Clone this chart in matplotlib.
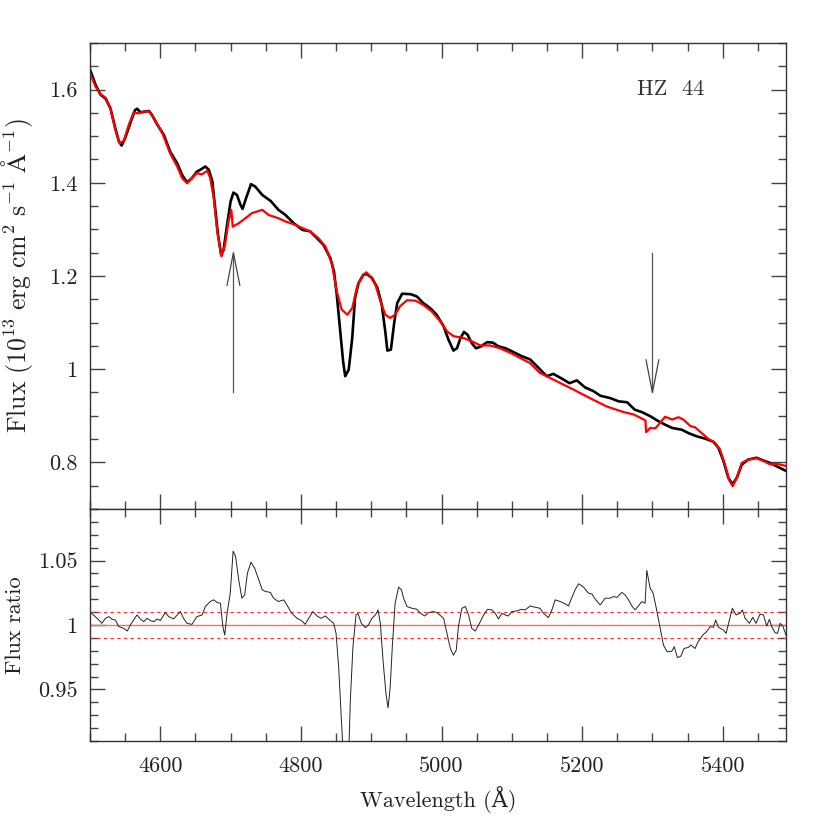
import numpy as np
import matplotlib
matplotlib.use("Agg")
import matplotlib.pyplot as plt
from matplotlib.ticker import MultipleLocator, FuncFormatter

plt.rcParams['font.family'] = ['cmr10', 'DejaVu Serif']
plt.rcParams['mathtext.fontset'] = 'cm'
plt.rcParams['axes.formatter.use_mathtext'] = True

# ---- data: observed spectrum (black) ----
obs_wave = [4500, 4508, 4515, 4522, 4529, 4536, 4541, 4545, 4550, 4558, 4564, 4567, 4572, 4578,
            4584, 4588, 4596, 4605, 4614, 4624, 4631, 4638, 4645, 4652, 4657, 4664, 4669, 4674,
            4678, 4682, 4686.5, 4690, 4695, 4700, 4704, 4709, 4714, 4717, 4722, 4729, 4735, 4745,
            4757, 4768, 4778, 4790, 4802, 4813, 4823, 4832, 4842, 4847, 4851, 4856, 4860, 4863,
            4868, 4873, 4877, 4882, 4889, 4894, 4901, 4909, 4915, 4920, 4923, 4928, 4933, 4937,
            4944, 4956, 4965, 4974, 4984, 4993, 5003, 5010, 5017, 5022, 5027, 5032, 5037, 5043,
            5049, 5055, 5065, 5073, 5081, 5091, 5102, 5114, 5126, 5136, 5145, 5150, 5159, 5171,
            5182, 5192.5, 5204, 5216, 5226, 5240, 5252, 5264, 5275, 5285, 5297, 5309, 5318, 5328,
            5342, 5351, 5363, 5375, 5387, 5394, 5401, 5408, 5414, 5420, 5427, 5436, 5448, 5458,
            5467, 5479, 5491]
obs_flux = [1.643, 1.610, 1.589, 1.581, 1.560, 1.517, 1.489, 1.480, 1.496, 1.531, 1.556, 1.559, 1.551, 1.553,
            1.554, 1.546, 1.524, 1.503, 1.467, 1.442, 1.417, 1.401, 1.410, 1.424, 1.428, 1.435, 1.428, 1.403,
            1.346, 1.289, 1.246, 1.256, 1.310, 1.360, 1.379, 1.374, 1.353, 1.344, 1.367, 1.397, 1.392, 1.374,
            1.361, 1.342, 1.331, 1.313, 1.299, 1.296, 1.281, 1.267, 1.238, 1.210, 1.160, 1.081, 1.017, 0.985,
            0.999, 1.067, 1.153, 1.185, 1.203, 1.204, 1.196, 1.174, 1.138, 1.081, 1.040, 1.042, 1.103, 1.142,
            1.162, 1.161, 1.156, 1.142, 1.131, 1.117, 1.092, 1.063, 1.040, 1.045, 1.067, 1.080, 1.074, 1.056,
            1.045, 1.048, 1.058, 1.057, 1.049, 1.045, 1.037, 1.028, 1.021, 1.006, 0.992, 0.985, 0.990, 0.980,
            0.970, 0.976, 0.961, 0.953, 0.943, 0.938, 0.931, 0.929, 0.913, 0.908, 0.899, 0.888, 0.881, 0.874,
            0.870, 0.863, 0.856, 0.851, 0.844, 0.831, 0.803, 0.767, 0.753, 0.767, 0.795, 0.806, 0.810, 0.804,
            0.799, 0.790, 0.781]

# ---- data: model spectrum (red) ----
mod_wave = [4500, 4508, 4515, 4522, 4529, 4536, 4542, 4548, 4555, 4562, 4569, 4576, 4584, 4591,
            4603, 4614, 4624, 4631, 4638, 4645, 4652, 4659, 4667, 4671, 4676, 4681, 4687, 4692,
            4697, 4701, 4703, 4711.5, 4721, 4730.5, 4745, 4754, 4768, 4778, 4790, 4802, 4813, 4825,
            4835, 4844, 4851, 4858, 4866, 4873, 4880, 4887, 4893, 4899, 4906, 4913, 4920, 4927,
            4934, 4941, 4951, 4963, 4974, 4986, 4998, 5008, 5017, 5031, 5043, 5055, 5069, 5083,
            5098, 5112, 5126, 5140, 5164, 5188, 5211, 5235, 5259, 5273, 5282.5, 5290, 5291, 5297,
            5304, 5311, 5318, 5328, 5337, 5344, 5354, 5361, 5370, 5380, 5389, 5396, 5403, 5409,
            5414, 5420, 5427, 5436, 5448, 5458, 5467, 5477, 5491]
mod_flux = [1.635, 1.606, 1.590, 1.583, 1.560, 1.514, 1.485, 1.490, 1.524, 1.551, 1.549, 1.553, 1.553, 1.539,
            1.506, 1.463, 1.435, 1.410, 1.399, 1.410, 1.421, 1.418, 1.426, 1.410, 1.367, 1.296, 1.242, 1.267,
            1.317, 1.342, 1.306, 1.313, 1.324, 1.335, 1.342, 1.331, 1.324, 1.317, 1.311, 1.303, 1.296, 1.281,
            1.263, 1.226, 1.167, 1.128, 1.117, 1.131, 1.178, 1.199, 1.208, 1.199, 1.181, 1.146, 1.117, 1.110,
            1.117, 1.135, 1.148, 1.147, 1.138, 1.124, 1.103, 1.081, 1.071, 1.067, 1.060, 1.051, 1.051, 1.045,
            1.035, 1.024, 1.013, 0.992, 0.974, 0.956, 0.938, 0.920, 0.908, 0.903, 0.896, 0.890, 0.865, 0.874,
            0.873, 0.885, 0.898, 0.892, 0.897, 0.892, 0.878, 0.875, 0.863, 0.850, 0.842, 0.828, 0.796, 0.763,
            0.749, 0.767, 0.799, 0.806, 0.809, 0.803, 0.796, 0.797, 0.792]

# ---- data: flux ratio (bottom panel) ----
ratio_wave = [4501, 4505, 4512.5, 4517, 4522, 4527, 4531.5, 4536, 4541, 4548, 4553, 4557.5, 4562, 4567,
              4572, 4576.5, 4581, 4586, 4591, 4595.5, 4600, 4607, 4612, 4619, 4624, 4628.6, 4633, 4638,
              4645, 4652, 4659.5, 4664, 4671, 4676, 4681, 4685.5, 4689, 4691.6, 4695, 4699.5, 4703.6, 4707,
              4711.5, 4716, 4720, 4724, 4729, 4734, 4740, 4745, 4749.5, 4756.6, 4761, 4768, 4775.5, 4780,
              4787, 4794.5, 4801.6, 4806, 4812, 4817, 4823, 4828.6, 4834.8, 4842, 4846.6, 4850, 4853.7, 4857.5,
              4859.4, 4862, 4866, 4868, 4870.3, 4874, 4878.4, 4881, 4886, 4891.6, 4896, 4901, 4906, 4909.7,
              4913, 4916.8, 4921, 4924, 4927, 4930, 4934, 4939, 4943, 4946, 4951, 4958, 4965, 4970,
              4976, 4981.6, 4988.7, 4993.5, 5003, 5007.8, 5012.5, 5017, 5021, 5024, 5029, 5034, 5038.5, 5043,
              5048, 5054, 5060, 5065.5, 5071.7, 5076.4, 5081, 5086, 5090.6, 5095, 5100, 5107, 5114, 5119,
              5126, 5133, 5140, 5145, 5152, 5157, 5161.7, 5169, 5176, 5180.6, 5185, 5190, 5195, 5202,
              5209, 5214, 5218.6, 5225.7, 5232.8, 5240, 5244.6, 5249.4, 5256.5, 5261, 5266, 5270.7, 5275.4, 5280,
              5285, 5289.6, 5292, 5296.7, 5301, 5306, 5311, 5315.7, 5321, 5327.6, 5331, 5335.6, 5340.4, 5345,
              5351, 5354.6, 5360.7, 5365, 5371.7, 5377, 5382, 5386.7, 5390, 5393.8, 5401, 5404.8, 5409.5, 5413.7,
              5419, 5424.8, 5428, 5431.8, 5438, 5442.7, 5447.4, 5453, 5458, 5462.6, 5466.4, 5469.7, 5474.5, 5478,
              5481.6, 5485.4, 5490]
ratio_val = [1.0096, 1.0078, 1.0039, 1.0013, 1.0052, 1.0065, 1.0044, 1.0039, 0.9987, 0.9974, 0.9953, 1.0000, 1.0039, 1.0078,
             1.0044, 1.0026, 1.0052, 1.0034, 1.0026, 1.0047, 1.0034, 1.0096, 1.0065, 1.0047, 1.0078, 1.0104, 1.0052, 1.0013,
             1.0005, 1.0065, 1.0078, 1.0143, 1.0182, 1.0195, 1.0174, 1.0169, 0.9987, 0.9922, 1.0091, 1.0247, 1.0573, 1.0534,
             1.0352, 1.0208, 1.0234, 1.0404, 1.0487, 1.0443, 1.0352, 1.0273, 1.0260, 1.0253, 1.0208, 1.0182, 1.0195, 1.0156,
             1.0091, 1.0052, 1.0031, 1.0005, 1.0060, 1.0104, 1.0070, 1.0052, 1.0070, 1.0034, 1.0013, 0.9935, 0.9674, 0.9284,
             0.9076, 0.8850, 0.8800, 0.9000, 0.9414, 0.9831, 1.0078, 1.0091, 1.0013, 0.9979, 1.0000, 1.0052, 1.0078, 1.0117,
             1.0013, 0.9727, 0.9466, 0.9357, 0.9518, 0.9831, 1.0169, 1.0294, 1.0273, 1.0208, 1.0143, 1.0130, 1.0122, 1.0091,
             1.0070, 1.0096, 1.0104, 1.0096, 1.0052, 0.9935, 0.9818, 0.9766, 0.9805, 0.9987, 1.0130, 1.0143, 1.0078, 0.9974,
             0.9953, 1.0013, 1.0078, 1.0122, 1.0117, 1.0091, 1.0047, 1.0091, 1.0078, 1.0070, 1.0104, 1.0109, 1.0122, 1.0117,
             1.0148, 1.0138, 1.0130, 1.0091, 1.0057, 1.0117, 1.0195, 1.0182, 1.0164, 1.0148, 1.0208, 1.0273, 1.0320, 1.0294,
             1.0247, 1.0240, 1.0201, 1.0156, 1.0208, 1.0208, 1.0221, 1.0214, 1.0253, 1.0234, 1.0195, 1.0148, 1.0117, 1.0148,
             1.0182, 1.0169, 1.0424, 1.0286, 1.0247, 1.0117, 0.9974, 0.9844, 0.9792, 0.9797, 0.9831, 0.9747, 0.9758, 0.9818,
             0.9826, 0.9844, 0.9818, 0.9870, 0.9922, 0.9948, 0.9987, 0.9982, 1.0039, 0.9982, 0.9961, 0.9935, 1.0039, 1.0130,
             1.0078, 1.0091, 1.0117, 1.0052, 1.0013, 1.0060, 1.0013, 1.0083, 1.0078, 0.9992, 1.0044, 0.9987, 0.9940, 0.9935,
             1.0013, 0.9992, 0.9922]

ref_level = 1.0
band_levels = [1.01, 0.99]

arrow_x = [4704, 5300]
arrow_tail = [0.95, 1.25]
arrow_tip = [1.25, 0.95]

star_name = "HZ  44"
wave_ticks = [4600, 4800, 5000, 5200, 5400]
wave_ticklabels = ["4600", "4800", "5000", "5200", "5400"]

# ---- figure ----
W, H = 830, 830
fig = plt.figure(figsize=(W / 100, H / 100), dpi=100)
L, R = 90, 786
T1, B1, B2 = 43, 509, 741
ax1 = fig.add_axes([L / W, 1 - B1 / H, (R - L) / W, (B1 - T1) / H])
ax2 = fig.add_axes([L / W, 1 - B2 / H, (R - L) / W, (B2 - B1) / H])

fs = 16
fmt = FuncFormatter(lambda v, p: f"{v:g}")
for ax in (ax1, ax2):
    ax.set_xlim(4500, 5490)
    ax.xaxis.set_major_locator(MultipleLocator(200))
    ax.xaxis.set_minor_locator(MultipleLocator(50))
    ax.tick_params(which='both', direction='in', top=True, right=True, colors='#444',
                   labelcolor='#222', labelsize=fs, width=1.0, labelfontfamily='cmr10')
    ax.tick_params(which='major', length=11)
    ax.tick_params(which='minor', length=5.5)
    ax.tick_params(axis='y', pad=9)
    ax.tick_params(axis='x', pad=11)
    ax.yaxis.set_major_formatter(fmt)
    for s in ax.spines.values():
        s.set_color('#333')
        s.set_linewidth(1.0)

ax1.set_xticks(wave_ticks)
ax1.tick_params(axis='x', labelbottom=False)
ax2.set_xticks(wave_ticks)
ax2.set_xticklabels(wave_ticklabels, fontfamily='cmr10', fontsize=fs, color='#222')
ax2.xaxis.set_minor_locator(MultipleLocator(50))
ax1.xaxis.set_minor_locator(MultipleLocator(50))
ax1.set_xlim(4500, 5490)
ax2.set_xlim(4500, 5490)

# top panel
ax1.set_ylim(0.7, 1.7)
ax1.yaxis.set_major_locator(MultipleLocator(0.2))
ax1.yaxis.set_minor_locator(MultipleLocator(0.05))
ax1.plot(obs_wave, obs_flux, color='black', lw=1.9, solid_joinstyle='round')
ax1.plot(mod_wave, mod_flux, color='#ff0000', lw=1.6, solid_joinstyle='round')
ax1.text(5278, 1.6, star_name, fontsize=fs, color='#333', ha='left', va='center')
ax1.set_ylabel(r"$\mathrm{Flux\ (10^{13}\ erg\ cm^{2}\ s^{-1}\ \AA^{-1})}$",
               fontsize=18.5, color='#222')
ax1.yaxis.set_label_coords(-0.079, 0.5)

# arrows (open V heads)
xr = ax1.get_xlim()[1] - ax1.get_xlim()[0]
for xa, yt, yh in zip(arrow_x, arrow_tail, arrow_tip):
    ax1.plot([xa, xa], [yt, yh], color='#555', lw=0.9)
    d = -0.07 if yh > yt else 0.07
    hw = 0.0092 * xr
    ax1.plot([xa - hw, xa, xa + hw], [yh + d, yh, yh + d], color='#444', lw=0.9)

# bottom panel
ax2.set_ylim(0.91, 1.09)
ax2.yaxis.set_major_locator(MultipleLocator(0.05))
ax2.yaxis.set_minor_locator(MultipleLocator(0.01))
ax2.axhline(ref_level, color='#f07070', lw=1.0)
for lev in band_levels:
    ax2.axhline(lev, color='#ff3030', lw=0.8, ls=(0, (3, 3)))
ax2.plot(ratio_wave, ratio_val, color='#222', lw=0.7)
ax2.set_ylabel("Flux ratio", fontsize=fs, color='#222')
ax2.yaxis.set_label_coords(-0.094, 0.5)
ax2.set_xlabel("Wavelength (Å)", fontsize=fs, color='#222')
ax2.xaxis.set_label_coords(0.5, -0.195)

fig.savefig("out.png", dpi=100)
